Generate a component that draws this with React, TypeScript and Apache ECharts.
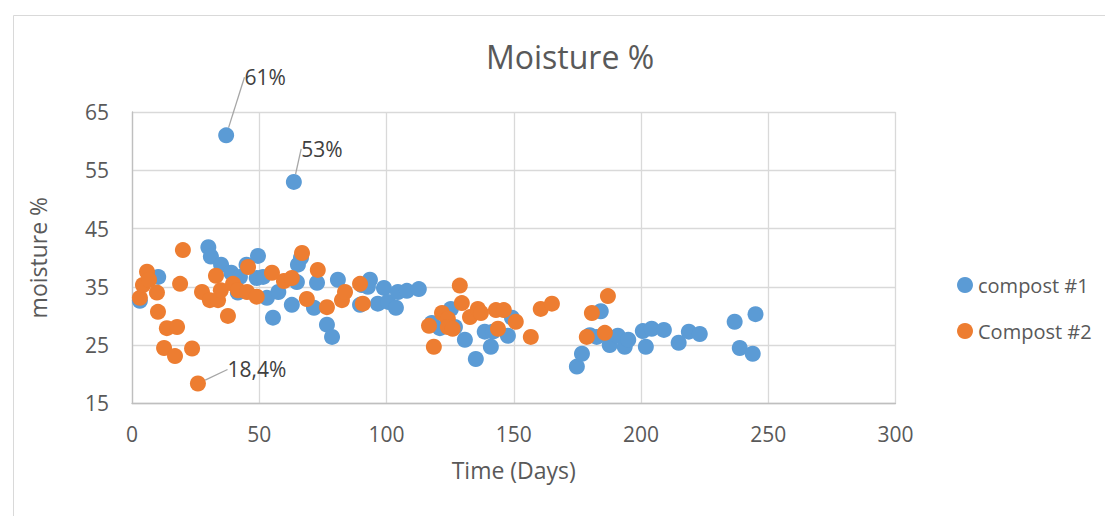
import React, { useEffect, useRef } from "react";
import * as echarts from "echarts";

const days1 = [3.1, 10.3, 30, 31, 35, 37, 39, 41.6, 42.4, 45, 49, 49.5, 51.5, 53, 55.4, 57.5, 62.8, 63.6, 64.8, 65.2, 66.4, 71.5, 72.7, 76.6, 78.6, 80.9, 89.6, 90.3, 92.7, 93.5, 96.6, 99, 100.6, 103.7, 104.5, 108, 112.7, 117.8, 121, 125.3, 126.9, 130.8, 135.1, 138.6, 141, 141.8, 147.7, 149.3, 174.8, 176.8, 179.9, 182.6, 184.2, 187.7, 190.9, 193.6, 195, 200.7, 201.9, 204.2, 209, 214.8, 218.8, 223.1, 236.8, 238.8, 243.9, 245];
const moisture1 = [32.6, 36.7, 41.8, 40.2, 38.8, 61, 37.4, 34, 36.7, 38.8, 36.5, 40.3, 36.7, 33.1, 29.7, 34.1, 31.9, 53, 35.8, 38.8, 40, 31.4, 35.7, 28.5, 26.4, 36.2, 31.9, 35.3, 35, 36.2, 32.1, 34.8, 32.4, 31.4, 34.1, 34.3, 34.6, 28.8, 27.9, 31.2, 28.1, 25.9, 22.6, 27.3, 24.7, 27.3, 26.6, 29.7, 21.3, 23.5, 26.7, 26.4, 30.8, 25, 26.6, 24.7, 25.9, 27.4, 24.7, 27.8, 27.6, 25.4, 27.3, 26.9, 29, 24.5, 23.5, 30.3];

const days2 = [3.1, 4.3, 5.9, 6.7, 9.8, 10.2, 12.6, 13.7, 16.9, 17.7, 18.9, 20, 23.6, 25.9, 27.5, 30.6, 33, 33.8, 34.9, 37.7, 39.7, 41.6, 45.2, 45.6, 49, 55, 59.7, 62.8, 66.8, 68.7, 73, 76.6, 82.5, 83.7, 89.6, 90.7, 116.7, 118.6, 121.8, 124.1, 124.1, 126, 128.8, 129.6, 132.8, 135.9, 137.1, 143, 143.8, 146.1, 150.8, 156.7, 160.6, 165, 178.7, 180.7, 185.8, 187];
const moisture2 = [33.1, 35.3, 37.6, 36.2, 34, 30.7, 24.5, 27.9, 23.1, 28.1, 35.5, 41.3, 24.4, 18.4, 34.1, 32.7, 36.9, 32.7, 34.4, 30, 35.5, 34.4, 34.1, 38.4, 33.3, 37.4, 36, 36.5, 40.8, 32.9, 37.9, 31.5, 32.7, 34.1, 35.5, 32.1, 28.3, 24.7, 30.5, 29.5, 28.1, 27.8, 35.2, 32.2, 29.8, 31.2, 30.5, 31, 27.8, 31, 29, 26.4, 31.2, 32.1, 26.4, 30.5, 27.1, 33.4];

const seriesNames = ["compost #1", "Compost #2"];
const xTicks = { min: 0, max: 300, interval: 50 };
const yTicks = { min: 15, max: 65, interval: 10 };
// annotated points: [seriesIndex, value, text]
const annotations: [number, number, string][] = [
  [0, 61, "61%"],
  [0, 53, "53%"],
  [1, 18.4, "18,4%"],
];

const FONT = "'Open Sans', sans-serif";

export default function App() {
  const ref = useRef<HTMLDivElement>(null);
  useEffect(() => {
    if (!ref.current) return;
    const chart = echarts.init(ref.current, null, { renderer: "svg" });
    const offsets: Record<string, [number, number]> = {
      "61%": [39, -58],
      "53%": [28, -33],
      "18,4%": [59, -14],
    };
    const build = (si: number, xs: number[], ys: number[]) =>
      xs.map((x, i) => {
        const a = annotations.find((an) => an[0] === si && an[1] === ys[i]);
        if (!a) return [x, ys[i]];
        return {
          value: [x, ys[i]],
          label: { show: true, formatter: a[2] },
          labelLine: { show: true },
        };
      });
    const labelLayout = (params: any) => {
      const o = offsets[params.text];
      if (!o) return {};
      return { dx: o[0], dy: o[1] };
    };
    const common = {
      type: "scatter",
      symbol: "circle",
      symbolSize: 16,
      label: {
        show: false,
        position: "inside",
        color: "#404040",
        fontSize: 21,
        fontFamily: FONT,
      },
      labelLine: { show: false, lineStyle: { color: "#a6a6a6", width: 1.3 } },
      labelLayout,
      emphasis: { disabled: true },
    };
    chart.setOption({
      animation: false,
      textStyle: { fontFamily: FONT },
      title: {
        text: "Moisture %",
        left: 565,
        top: 35,
        textAlign: "center",
        textStyle: { fontSize: 32, fontWeight: "normal", color: "#595959", fontFamily: FONT },
      },
      graphic: [
        {
          type: "rect",
          left: 11,
          top: 13,
          shape: { width: 1110, height: 520 },
          style: { fill: "none", stroke: "#d9d9d9", lineWidth: 1 },
          silent: true,
        },
      ],
      legend: {
        orient: "vertical",
        left: 952,
        top: 270,
        itemWidth: 16,
        itemHeight: 16,
        itemGap: 26,
        icon: "circle",
        textStyle: { fontSize: 20, color: "#595959", lineHeight: 20, fontFamily: FONT },
        data: seriesNames,
      },
      grid: { left: 132, top: 112, right: 209.5, bottom: 112.7, containLabel: false },
      xAxis: {
        type: "value",
        min: xTicks.min,
        max: xTicks.max,
        interval: xTicks.interval,
        name: "Time (Days)",
        nameLocation: "middle",
        nameGap: 55,
        nameTextStyle: { fontSize: 23, color: "#595959", fontFamily: FONT },
        axisLine: { show: true, lineStyle: { color: "#bfbfbf", width: 1.3 } },
        axisTick: { show: false },
        axisLabel: { fontSize: 21, color: "#595959", margin: 20, fontFamily: FONT },
        splitLine: { show: true, lineStyle: { color: "#d9d9d9", width: 1.3 } },
      },
      yAxis: {
        type: "value",
        min: yTicks.min,
        max: yTicks.max,
        interval: yTicks.interval,
        name: "moisture %",
        nameLocation: "middle",
        nameGap: 83,
        nameRotate: 90,
        nameTextStyle: { fontSize: 23, color: "#595959", fontFamily: FONT },
        axisLine: { show: true, lineStyle: { color: "#bfbfbf", width: 1.3 } },
        axisTick: { show: false },
        axisLabel: { fontSize: 21, color: "#595959", margin: 23, fontFamily: FONT },
        splitLine: { show: true, lineStyle: { color: "#d9d9d9", width: 1.3 } },
      },
      series: [
        { ...common, name: seriesNames[0], itemStyle: { color: "#5B9BD5", opacity: 1 }, data: build(0, days1, moisture1) },
        { ...common, name: seriesNames[1], itemStyle: { color: "#ED7D31", opacity: 1 }, data: build(1, days2, moisture2) },
      ],
    });
    return () => chart.dispose();
  }, []);
  return (
    <div
      ref={ref}
      style={{ position: "fixed", left: 0, top: 0, width: 1105, height: 516, background: "#fff" }}
    />
  );
}
